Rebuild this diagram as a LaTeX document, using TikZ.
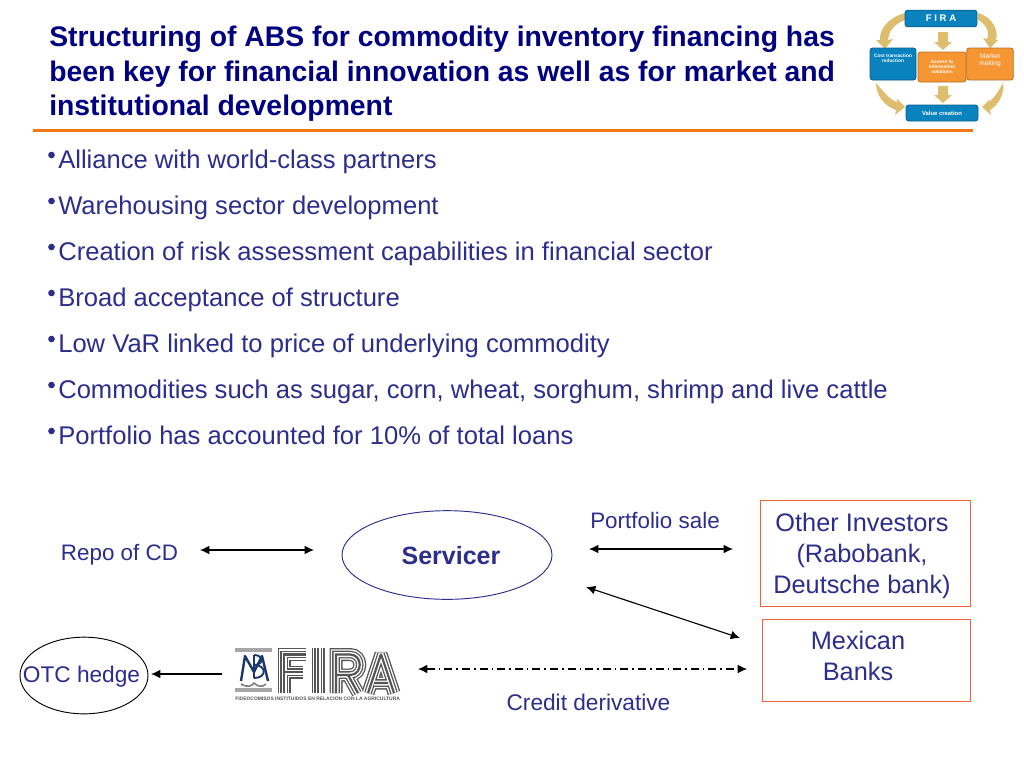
\documentclass[tikz,border=0pt]{standalone}
\usepackage{fontspec}
\setmainfont{Liberation Sans}
\usetikzlibrary{arrows.meta,shapes.geometric}
\definecolor{navy}{RGB}{0,0,128}
\definecolor{body}{RGB}{45,45,140}
\definecolor{rule}{RGB}{240,120,20}
\definecolor{boxc}{RGB}{240,100,60}
\definecolor{lblue}{RGB}{10,130,190}
\definecolor{lorange}{RGB}{245,150,50}
\definecolor{ltan}{RGB}{222,190,110}
\definecolor{fgray}{RGB}{85,85,85}
\definecolor{mono}{RGB}{25,55,110}
\newcommand{\fs}[1]{\fontsize{#1}{#1}\selectfont}
\tikzset{
 x=0.75pt,y=-0.75pt,
 titlet/.style={anchor=base west,inner sep=0,text=navy,font=\fs{21.25}\bfseries},
 bullett/.style={anchor=base west,inner sep=0,text=body,font=\fs{19.2}},
 bdot/.style={circle,fill=body,inner sep=0,minimum size=5pt},
 lab/.style={anchor=base,inner sep=0,text=body,align=center},
 twoway/.style={{Latex[length=7pt,width=6.5pt]}-{Latex[length=7pt,width=6.5pt]},line width=0.85pt},
 oneway/.style={-{Latex[length=7pt,width=6.5pt]},line width=0.85pt},
 orbox/.style={draw=boxc,line width=0.7pt,inner sep=0},
 lbox/.style={rounded corners=2pt,inner sep=0,text=white,align=center,draw=black!25!#1,line width=0.6pt,fill=#1},
 ltxt/.style={font=\fs{3.6}\bfseries,text=white},
}
\begin{document}
\begin{tikzpicture}
\useasboundingbox (0,0) rectangle (1024,768);
\fill[white] (0,0) rectangle (1024,768);
% title
\node[titlet] (t1) at (49,46) {Structuring of ABS for commodity inventory financing has};
\node[titlet] (t2) at (49,81) {been key for financial innovation as well as for market and};
\node[titlet] (t3) at (49,115) {institutional development};
\fill[rule] (33,128.5) rectangle (973,131.5);
% bullets
\foreach \n/\y/\s in {1/168/Alliance with world-class partners,
 2/214/Warehousing sector development,
 3/260/Creation of risk assessment capabilities in financial sector,
 4/306/Broad acceptance of structure,
 5/352/Low VaR linked to price of underlying commodity,
 6/398/{Commodities such as sugar, corn, wheat, sorghum, shrimp and live cattle},
 7/444/Portfolio has accounted for 10\% of total loans}{
  \node[bdot] (d\n) at (51.5,\y-13) {};
  \node[bullett] (b\n) at (58,\y) {\s};
}
% diagram
\node[draw=body,line width=0.7pt,ellipse,minimum width=157.5pt,minimum height=66.5pt,inner sep=0] (serv) at (447,555) {};
\node[lab,font=\fs{18.75}\bfseries] (servt) at (451,564) {Servicer};
\node[draw=black,line width=0.7pt,ellipse,minimum width=96pt,minimum height=57.5pt,inner sep=0] (otc) at (84,675.5) {};
\node[lab,font=\fs{17}] (otct) at (81.5,682) {OTC hedge};
\node[lab,font=\fs{16.8}] (repo) at (119.5,560) {Repo of CD};
\node[lab,font=\fs{16.8}] (psale) at (655,528) {Portfolio sale};
\node[lab,font=\fs{17}] (cder) at (588.5,710) {Credit derivative};
\node[orbox,minimum width=157.5pt,minimum height=79.5pt] (oinv) at (865,553) {};
\node[lab,font=\fs{19}] (oi1) at (862,531) {Other Investors};
\node[lab,font=\fs{19}] (oi2) at (862,562) {(Rabobank,};
\node[lab,font=\fs{19}] (oi3) at (862,593) {Deutsche bank)};
\node[orbox,minimum width=156pt,minimum height=61.5pt] (mex) at (866,660) {};
\node[lab,font=\fs{19}] (mx1) at (858,649) {Mexican};
\node[lab,font=\fs{19}] (mx2) at (858,680) {Banks};
% connector ends
\coordinate (ra) at (200,550); \coordinate (rb) at (314,550);
\coordinate (pa) at (589,549); \coordinate (pb) at (733,549);
\coordinate (da) at (586,587); \coordinate (db) at (740,638);
\coordinate (ca) at (418,669); \coordinate (cb) at (747,669);
\coordinate (oa) at (222,674); \coordinate (ob) at (151,674);
\draw[twoway] (ra) -- (rb);
\draw[twoway] (pa) -- (pb);
\draw[twoway] (da) -- (db);
\draw[twoway,line width=0.8pt,dash pattern=on 6pt off 3pt on 1.2pt off 3pt] (ca) -- (cb);
\draw[oneway] (oa) -- (ob);
% FIRA logo
\fill[gray!70] (235,648) rectangle (272,652);
\fill[gray!70] (235,688) rectangle (272,692);
\draw[mono,line width=1.8pt,line join=round] (241,681) -- (245,656) -- (254,672) -- (262,656) -- (268,681);
\draw[mono,line width=1.4pt] (254,655) -- (254,678) (254,655) .. controls (264,655) and (264,665) .. (254,665) (254,665) .. controls (267,665) and (267,678) .. (254,678);
\draw[gray,line width=1.2pt] (241,684) .. controls (248,688) and (252,686) .. (254,683) .. controls (257,686) and (262,688) .. (266,684);
\foreach \w/\c in {13/fgray,10.4/white,7.6/fgray,5/white,2.2/fgray}{
 \begin{scope}[line width=\w*0.75pt,draw=\c,line join=miter,line cap=butt]
 \draw (284,693) -- (284,654.5) -- (306,654.5) (284,672) -- (303,672);
 \draw (318,648) -- (318,693);
 \draw (336,693) -- (336,654.5) -- (350,654.5) .. controls (363,654.5) and (363,675) .. (350,675) -- (336,675) (348,675) -- (358,693);
 \draw[line join=bevel] (368,693) -- (381,654) -- (394,693) (374,683) -- (388,683);
 \end{scope}
}
\node[anchor=base west,inner sep=0,font=\fs{3.72}\bfseries,text=fgray] (fcap) at (235,700) {FIDEOCOMISOS INSTITUIDOS EN RELACION CON LA AGRICULTURA};
% small corner diagram
\fill[ltan] (905,13) .. controls (890,17) and (879,28) .. (880,40) -- (876,40) -- (885,49) -- (893,39) -- (888,40) .. controls (889,30) and (895,24) .. (905,20) -- cycle;
\fill[ltan] (978,13) .. controls (992,17) and (999,30) .. (996,40) -- (998,40) -- (990,48) -- (983,38) -- (987,39) .. controls (990,32) and (986,24) .. (978,20) -- cycle;
\fill[ltan] (938,32) -- (948,32) -- (948,42) -- (952,42) -- (943,50) -- (934,42) -- (938,42) -- cycle;
\fill[ltan] (938,86) -- (948,86) -- (948,95) -- (952,95) -- (943,103) -- (934,95) -- (938,95) -- cycle;
\fill[ltan] (876,83) .. controls (876,95) and (884,106) .. (896,110) -- (895,115) -- (905,107) -- (897,99) -- (897,102) .. controls (890,100) and (884,92) .. (876,83) -- cycle;
\fill[ltan] (1003,83) .. controls (1005,95) and (997,106) .. (990,110) -- (991,115) -- (982,107) -- (990,99) -- (989,102) .. controls (994,98) and (998,92) .. (1003,83) -- cycle;
\node[lbox=lblue,minimum width=54pt,minimum height=12.5pt,font=\fs{7.2}\bfseries] (lf) at (941,18.5) {F I R A};
\node[lbox=lblue,minimum width=34.5pt,minimum height=24pt,ltxt] (lc) at (893,64) {Cost transaction\\reduction\\[5pt]\ };
\node[lbox=lorange,minimum width=36pt,minimum height=22.5pt,ltxt] (lm) at (942,67) {Access to\\information\\solutions};
\node[lbox=lorange,minimum width=35pt,minimum height=24pt,font=\fs{5},text=white] (lk) at (990,64) {Market\\making\\[2pt]\ };
\node[lbox=lblue,minimum width=54pt,minimum height=12pt,ltxt,font=\fs{4.4}\bfseries] (lv) at (942,113) {Value creation};
\end{tikzpicture}
\end{document}
